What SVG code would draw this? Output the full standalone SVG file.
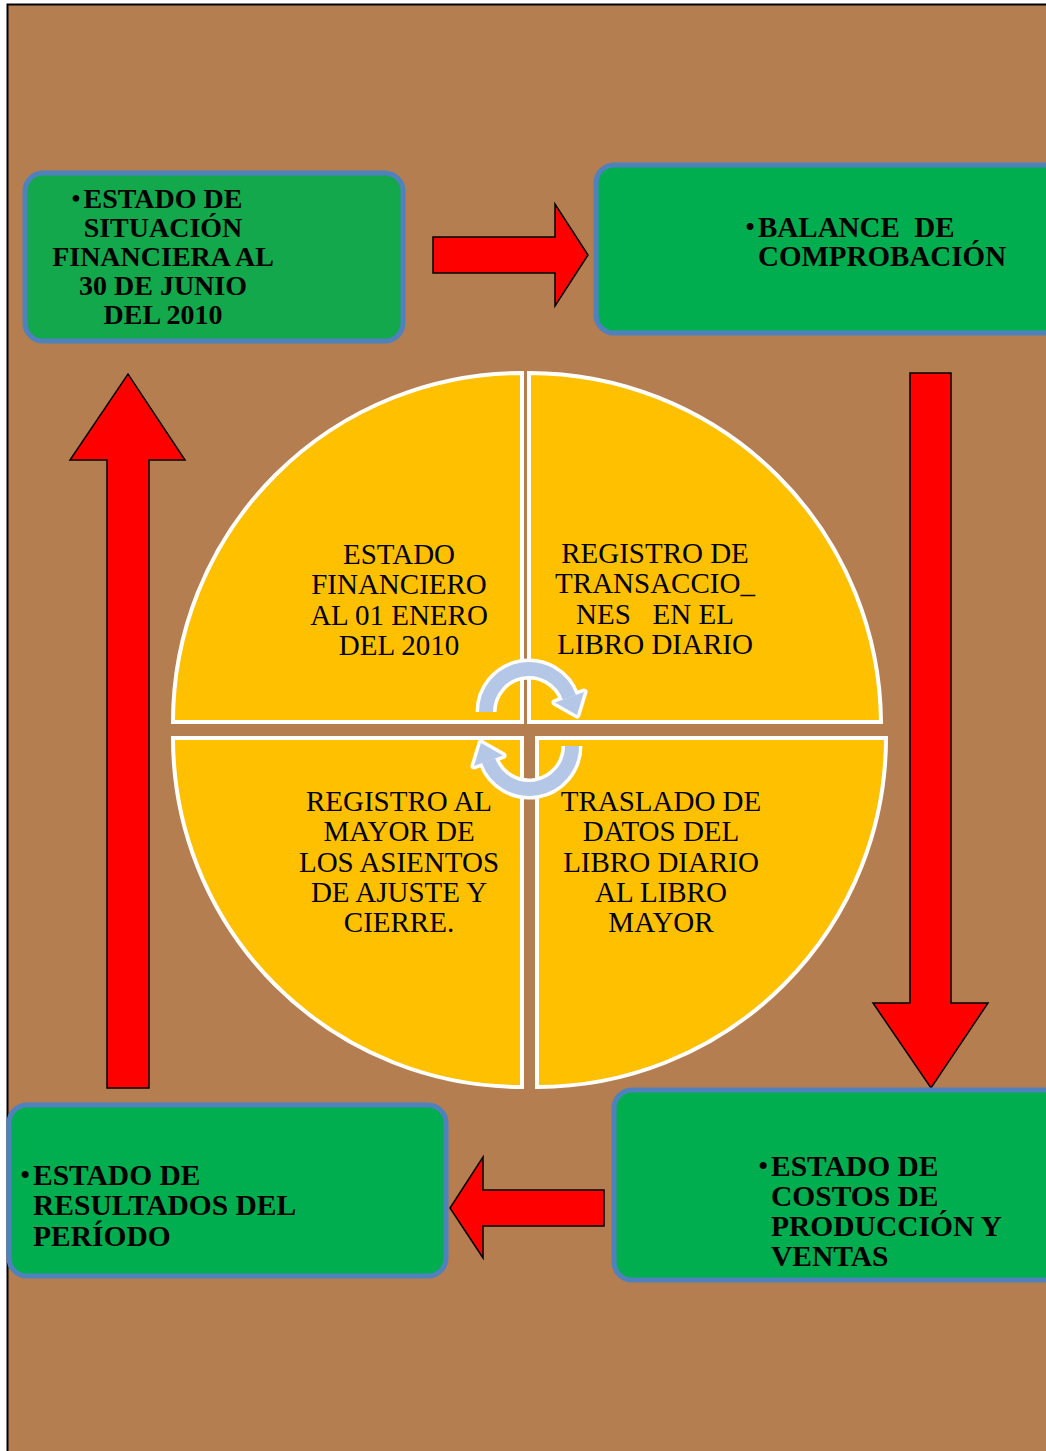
<svg xmlns="http://www.w3.org/2000/svg" width="1046" height="1451" viewBox="0 0 1046 1451">
<style>
.box{stroke:#4F81BD;stroke-width:5}
.arrow{fill:#FF0000;stroke:#000;stroke-width:1.5;stroke-linejoin:miter}
.quad{fill:#FFC000;stroke:#FFFFFF;stroke-width:4}
.bt{font-family:"Liberation Serif","Times New Roman",serif;font-weight:bold;font-size:29.5px;fill:#000}
.qt{font-family:"Liberation Serif","Times New Roman",serif;font-size:29px;fill:#000;text-anchor:middle}
</style>
<rect x="0" y="0" width="1046" height="1451" fill="#FFFFFF"/>
<rect x="7.5" y="4.5" width="1050" height="1460" fill="#B47E50" stroke="#000" stroke-width="2"/>

<g id="connectors">
<polygon class="arrow" points="433,237 555,237 555,204 588,255 555,306 555,273 433,273"/>
<polygon class="arrow" points="910,373 951,373 951,1003 988,1003 931,1088 873,1003 910,1003"/>
<polygon class="arrow" points="604,1190 483,1190 483,1157 450,1208 483,1258 483,1226 604,1226"/>
<polygon class="arrow" points="107,1088 149,1088 149,460 185,460 128,374 70,460 107,460"/>
</g>

<g id="node-situacion">
<rect class="box" x="25" y="173" width="378" height="168" rx="18" fill="#14A84C"/>
<text class="bt" style="font-size:28px" text-anchor="middle"><tspan x="71" y="208" text-anchor="start" style="font-weight:normal">•</tspan><tspan x="163" y="208">ESTADO DE</tspan><tspan x="163" y="237">SITUACIÓN</tspan><tspan x="163" y="266">FINANCIERA AL</tspan><tspan x="163" y="295">30 DE JUNIO</tspan><tspan x="163" y="324">DEL 2010</tspan></text>
</g>

<g id="node-balance">
<rect class="box" x="596" y="165" width="470" height="168" rx="18" fill="#00AE50"/>
<text class="bt" style="font-size:29px" xml:space="preserve"><tspan x="745" y="237" style="font-weight:normal">•</tspan><tspan x="758" y="237">BALANCE  DE</tspan><tspan x="758" y="266">COMPROBACIÓN</tspan></text>
</g>

<g id="node-costos">
<rect class="box" x="614" y="1090" width="460" height="190" rx="18" fill="#00AE50"/>
<text class="bt"><tspan x="758" y="1176" style="font-weight:normal">•</tspan><tspan x="771" y="1176">ESTADO DE</tspan><tspan x="771" y="1206">COSTOS DE</tspan><tspan x="771" y="1236">PRODUCCIÓN Y</tspan><tspan x="771" y="1266">VENTAS</tspan></text>
</g>

<g id="node-resultados">
<rect class="box" x="9" y="1105" width="437" height="171" rx="18" fill="#00AE50"/>
<text class="bt"><tspan x="20" y="1185" style="font-weight:normal">•</tspan><tspan x="33" y="1185">ESTADO DE</tspan><tspan x="33" y="1215">RESULTADOS DEL</tspan><tspan x="33" y="1246">PERÍODO</tspan></text>
</g>

<g id="node-q1">
<path class="quad" d="M522,722 L173,722 A349,349 0 0 1 522,373 Z"/>
<text class="qt"><tspan x="399" y="564">ESTADO</tspan><tspan x="399" y="594">FINANCIERO</tspan><tspan x="399" y="625">AL 01 ENERO</tspan><tspan x="399" y="655">DEL 2010</tspan></text>
</g>
<g id="node-q2">
<path class="quad" d="M529,722 L529,373 A352,352 0 0 1 881,722 Z"/>
<text class="qt"><tspan x="655" y="563">REGISTRO DE</tspan><tspan x="655" y="593">TRANSACCIO_</tspan><tspan x="655" y="624" xml:space="preserve">NES   EN EL</tspan><tspan x="655" y="654">LIBRO DIARIO</tspan></text>
</g>
<g id="node-q3">
<path class="quad" d="M522,738 L522,1087 A349,349 0 0 1 173,738 Z"/>
<text class="qt"><tspan x="399" y="811">REGISTRO AL</tspan><tspan x="399" y="841">MAYOR DE</tspan><tspan x="399" y="872">LOS ASIENTOS</tspan><tspan x="399" y="902">DE AJUSTE Y</tspan><tspan x="399" y="932">CIERRE.</tspan></text>
</g>
<g id="node-q4">
<path class="quad" d="M537,738 L886,738 A349,349 0 0 1 537,1087 Z"/>
<text class="qt"><tspan x="661" y="811">TRASLADO DE</tspan><tspan x="661" y="841">DATOS DEL</tspan><tspan x="661" y="872">LIBRO DIARIO</tspan><tspan x="661" y="902">AL LIBRO</tspan><tspan x="661" y="932">MAYOR</tspan></text>
</g>

<g id="cycle-arrows">
<path d="M486,712 A43,43 0 0 1 569.4,697.3" fill="none" stroke="#FFFFFF" stroke-width="21"/>
<polygon points="584,692 555,702.5 577,715" fill="#FFFFFF" stroke="#FFFFFF" stroke-width="7" stroke-linejoin="round"/>
<path d="M572,746 A43,43 0 0 1 488.6,760.7" fill="none" stroke="#FFFFFF" stroke-width="21"/>
<polygon points="474,766 503,755.5 481,743" fill="#FFFFFF" stroke="#FFFFFF" stroke-width="7" stroke-linejoin="round"/>
<path d="M486,712 A43,43 0 0 1 569.4,697.3" fill="none" stroke="#B4C7E7" stroke-width="14"/>
<polygon points="584,692 555,702.5 577,715" fill="#B4C7E7"/>
<path d="M572,746 A43,43 0 0 1 488.6,760.7" fill="none" stroke="#B4C7E7" stroke-width="14"/>
<polygon points="474,766 503,755.5 481,743" fill="#B4C7E7"/>
</g>
</svg>
